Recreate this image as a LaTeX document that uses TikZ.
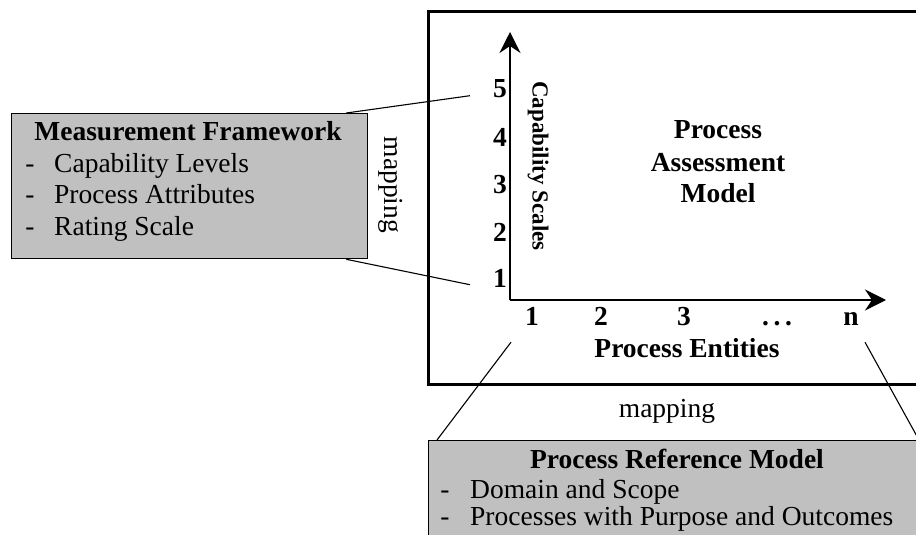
\documentclass[tikz,border=0pt]{standalone}
\usepackage{fontspec}
\setmainfont{Liberation Serif}
\usetikzlibrary{arrows.meta}

\newcommand\txtbig{\fontsize{27.5}{32}\selectfont}
\newcommand\txtaxis{\fontsize{23}{27}\selectfont}

\definecolor{boxgrey}{HTML}{C0C0C0}
\tikzset{
  greybox/.style={draw=black, fill=boxgrey, rectangle, inner sep=0pt},
  txt/.style={inner sep=0pt, font=\txtbig, text=black},
  btxt/.style={inner sep=0pt, font=\txtbig\bfseries, text=black},
  link/.style={draw=black, line width=1.1pt},
  axisline/.style={draw=black, line width=2.2pt,
    -{Stealth[length=21pt, width=21pt, inset=7pt]}},
}

\begin{document}
\begin{tikzpicture}[x=1pt, y=-1pt]
  \useasboundingbox (0,0) rectangle (916,535);
  \clip (0,0) rectangle (916,535);
  \fill[white] (0,0) rectangle (916,535);

  % Process Assessment Model frame (runs past the right edge)
  \node[draw=black, line width=3pt, rectangle, inner sep=0pt,
        minimum width=530pt, minimum height=373pt, anchor=north west]
        (pam) at (427,10) {};

  % capability / process axes
  \coordinate (orig) at (510,300);
  \coordinate (ytip) at (510,32);
  \coordinate (xtip) at (886,300);
  \draw[axisline] (orig) -- (ytip);
  \draw[axisline] (orig) -- (xtip);

  % capability levels
  \foreach \k/\yy in {5/98, 4/146, 3/193, 2/241, 1/287}
    \node[btxt, anchor=base] (n\k) at (500,\yy) {\k};
  \node[inner sep=0pt, font=\txtaxis\bfseries, rotate=-90] (capsc) at (538,166) {Capability Scales};

  % process entities
  \foreach \nm/\lab/\xx in {x1/1/532, x2/2/601, x3/3/684, xd/{.\,.\,.}/777, xn/n/851}
    \node[btxt, anchor=base] (\nm) at (\xx,325) {\lab};
  \node[btxt, anchor=base] (pent) at (687,357) {Process Entities};

  % model title
  \node[btxt, anchor=base] (pam1) at (718,138) {Process};
  \node[btxt, anchor=base] (pam2) at (718,171) {Assessment};
  \node[btxt, anchor=base] (pam3) at (718,202) {Model};

  % Measurement Framework box
  \node[greybox, line width=1.3pt, minimum width=356pt, minimum height=145pt,
        anchor=north west] (mf) at (11,113) {};
  \node[btxt, anchor=base] (mft) at (188,140) {Measurement Framework};
  \foreach \i/\lab/\yy in {1/Capability Levels/172.5, 2/Process Attributes/203.5, 3/Rating Scale/235} {
    \node[txt, anchor=base] (mfd\i) at (30,\yy) {-};
    \node[txt, anchor=base west] (mfi\i) at (54,\yy) {\lab};
  }
  \node[txt, rotate=-90] (map1) at (391,185) {mapping};

  % Process Reference Model box (runs past the right and bottom edges)
  \node[greybox, line width=1pt, minimum width=490pt, minimum height=150pt,
        anchor=north west] (prm) at (428,440) {};
  \node[btxt, anchor=base] (prmt) at (677,468) {Process Reference Model};
  \foreach \i/\lab/\yy in {1/Domain and Scope/498, 2/Processes with Purpose and Outcomes/525} {
    \node[txt, anchor=base] (prmd\i) at (445,\yy) {-};
    \node[txt, anchor=base west] (prmi\i) at (470,\yy) {\lab};
  }
  \node[txt, anchor=base] (map2) at (667,417) {mapping};

  % mapping connectors
  \draw[link] ([xshift=-22pt]mf.north east) -- ([xshift=-23pt]n5.mid west);
  \draw[link] ([xshift=-22pt]mf.south east) -- ([xshift=-23pt]n1.mid west);
  \draw[link] ([shift={(-21pt,-17pt)}]x1.south) -- ([xshift=9pt]prm.north west);
  \draw[link] ([shift={(14pt,-17pt)}]xn.south) -- (prm.north east);
\end{tikzpicture}
\end{document}
